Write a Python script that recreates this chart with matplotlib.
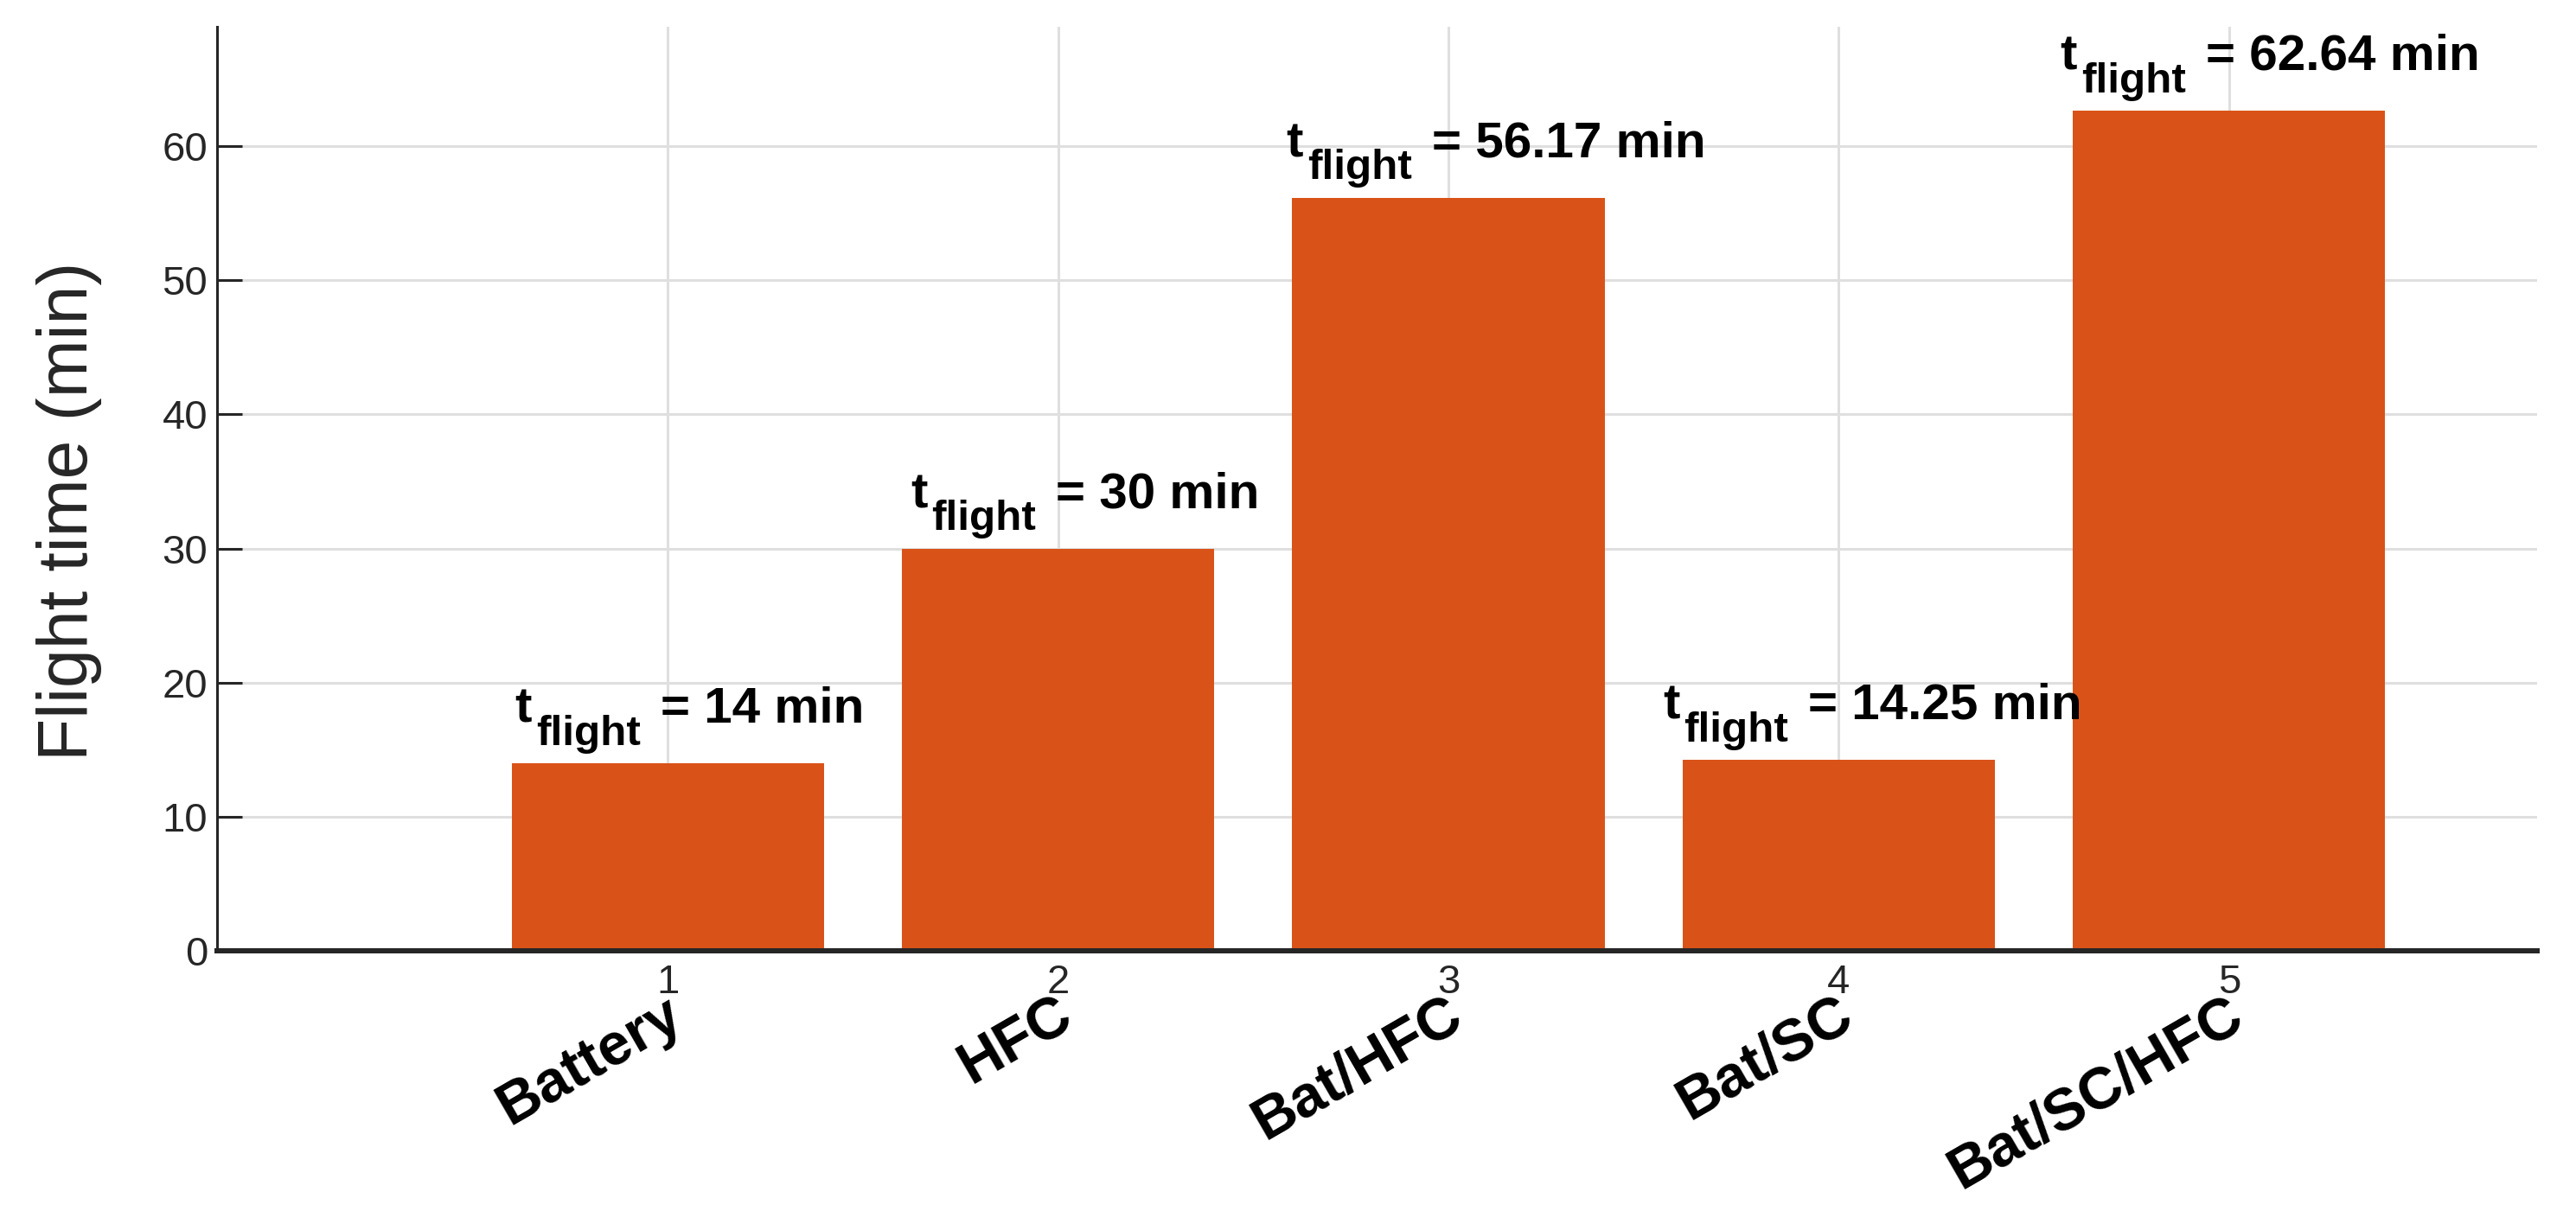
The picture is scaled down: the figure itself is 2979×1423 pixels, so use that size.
import matplotlib
matplotlib.use('Agg')
import matplotlib.pyplot as plt

# valori
categories = ['Battery', 'HFC', 'Bat/HFC', 'Bat/SC', 'Bat/SC/HFC']
positions = [1, 2, 3, 4, 5]
flight_time = [14, 30, 56.17, 14.25, 62.64]
time_text = ['14', '30', '56.17', '14.25', '62.64']
y_ticks = [0, 10, 20, 30, 40, 50, 60]

plt.rcParams['font.family'] = ['Liberation Sans', 'DejaVu Sans']

DPI = 200
fig = plt.figure(figsize=(2979 / DPI, 1423 / DPI), dpi=DPI)
ax = fig.add_axes([0.0843, 0.2270, 0.9006, 0.7512])

dark = '#262626'
grid_col = '#dfdfdf'

ax.bar(positions, flight_time, width=0.8, color='#D95319', zorder=2)

# griglia dietro le barre, tick sopra
for y in y_ticks:
    ax.axhline(y, color=grid_col, lw=1.1, zorder=0.5)
for x in positions:
    ax.axvline(x, color=grid_col, lw=1.1, zorder=0.5)

ax.set_xlim(-0.154, 5.789)
ax.set_ylim(0, 68.9)
ax.set_xticks(positions)
ax.set_xticklabels([str(p) for p in positions])
ax.set_yticks(y_ticks)

for s in ['top', 'right']:
    ax.spines[s].set_visible(False)
ax.spines['left'].set_linewidth(1.1)
ax.spines['left'].set_color(dark)
ax.spines['bottom'].set_linewidth(2.16)
ax.spines['bottom'].set_color(dark)

ax.tick_params(axis='y', direction='in', length=10.4, width=1.1, labelsize=17,
               colors=dark, pad=4)
ax.tick_params(axis='x', direction='in', length=10, width=0.8, labelsize=17,
               colors=dark, pad=5.5)

ax.set_ylabel('Flight time (min)', fontsize=29, color=dark)
ax.yaxis.set_label_coords(-0.0496, 0.476)

# etichette delle categorie, ruotate
for p, c in zip(positions, categories):
    ax.annotate(c, xy=(p, 0), xytext=(-1.5, -15), textcoords='offset points',
                rotation=30, rotation_mode='anchor', ha='right', va='top',
                fontsize=24.5, fontweight='bold', color='black')

# t_flight = ... sopra ogni barra
renderer = fig.canvas.get_renderer()
label_dx = [1.4, 3.6, -2.5, -8.3, -5.4]
base_dy = 17
main_fs = 21
sub_fs = 17.8
for p, v, txt, dx in zip(positions, flight_time, time_text, label_dx):
    x_left = p - 0.4
    t1 = ax.annotate('t', xy=(x_left, v), xytext=(dx, base_dy), textcoords='offset points',
                     ha='left', va='baseline', fontsize=main_fs, fontweight='bold')
    w1 = t1.get_window_extent(renderer).width * 72 / DPI
    x2 = dx + w1 + 1.8
    t2 = ax.annotate('flight', xy=(x_left, v), xytext=(x2, base_dy - 9.4),
                     textcoords='offset points', ha='left', va='baseline',
                     fontsize=sub_fs, fontweight='bold')
    w2 = t2.get_window_extent(renderer).width * 72 / DPI
    x3 = x2 + w2 + 8.3
    ax.annotate(f'= {txt} min', xy=(x_left, v), xytext=(x3, base_dy),
                textcoords='offset points', ha='left', va='baseline',
                fontsize=main_fs, fontweight='bold')

fig.savefig('out.png', dpi=DPI)
